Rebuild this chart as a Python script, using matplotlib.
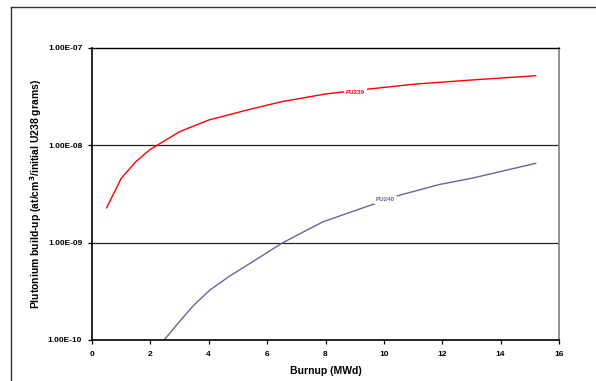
import numpy as np
import matplotlib
matplotlib.use("Agg")
import matplotlib.pyplot as plt
from matplotlib.lines import Line2D

plt.rcParams['font.family'] = ['Liberation Sans', 'DejaVu Sans']

# Pu-239 build-up
pu239_burnup = [0.5, 1.0, 1.5, 2.0, 3.0, 4.0, 5.4, 6.5, 8.0, 9.5, 11.0, 13.0, 15.2]
pu239_value = [2.28e-9, 4.58e-9, 6.78e-9, 9.1e-9, 1.38e-8, 1.82e-8, 2.34e-8,
               2.81e-8, 3.37e-8, 3.79e-8, 4.24e-8, 4.69e-8, 5.19e-8]

# Pu-240 build-up
pu240_burnup = [2.47, 3.0, 3.5, 4.04, 4.7, 5.41, 6.5, 7.2, 7.92, 9.55, 10.55, 11.92, 13.0, 15.2]
pu240_value = [1.0e-10, 1.55e-10, 2.3e-10, 3.26e-10, 4.5e-10, 6.12e-10, 9.84e-10,
               1.27e-9, 1.64e-9, 2.43e-9, 3.08e-9, 3.97e-9, 4.58e-9, 6.53e-9]

y_ticks = [1e-10, 1e-9, 1e-8, 1e-7]
y_tick_labels = ['1.00E-10', '1.00E-09', '1.00E-08', '1.00E-07']
x_ticks = [0, 2, 4, 6, 8, 10, 12, 14, 16]

fig = plt.figure(figsize=(5.96, 3.81), dpi=100)
ax = fig.add_axes([92 / 596, 1 - 340 / 381, (559 - 92) / 596, (340 - 48) / 381])

ax.plot(pu239_burnup, pu239_value, color='#FF0000', lw=1.0)
ax.plot(pu240_burnup, pu240_value, color='#666699', lw=1.0)

ax.set_yscale('log')
ax.set_ylim(1e-10, 1e-7)
ax.set_xlim(0, 16)

for y in [1e-9, 1e-8]:
    ax.axhline(y, color='#222222', lw=0.9, zorder=0)

# inline series labels
ax.text(9.03, 3.53e-8, 'PU239', color='#FF0000', fontsize=4.5, fontweight='bold',
        ha='center', va='center',
        bbox=dict(facecolor='white', edgecolor='none', pad=1.2))
ax.text(10.05, 2.75e-9, 'PU240', color='#666699', fontsize=4.5, fontweight='bold',
        ha='center', va='center',
        bbox=dict(facecolor='white', edgecolor='none', pad=1.2))

ax.set_yticks(y_ticks)
ax.set_yticklabels(y_tick_labels)
ax.yaxis.set_minor_locator(matplotlib.ticker.NullLocator())
ax.set_xticks(x_ticks)
ax.tick_params(direction='out', length=3, width=0.9, labelsize=6)
ax.tick_params(axis='x', pad=5)
ax.tick_params(axis='y', pad=4)
for lab in ax.get_xticklabels() + ax.get_yticklabels():
    lab.set_fontweight('bold')

ax.set_xlabel('Burnup (MWd)', fontsize=7.5, fontweight='bold', labelpad=6)
ax.set_ylabel('Plutonium build-up (at/cm$^{\\mathbf{3}}$/initial U238 grams)',
              fontsize=7.5, fontweight='bold', labelpad=3)

ax.spines['left'].set_linewidth(1.2)
ax.spines['bottom'].set_linewidth(1.2)
ax.spines['top'].set_linewidth(1.0)
ax.spines['right'].set_color('#808080')
ax.spines['right'].set_linewidth(1.2)

# outer chart frame, cut off on the right and bottom
fig.add_artist(Line2D([11 / 596, 1.0], [1 - 7 / 381, 1 - 7 / 381],
                      transform=fig.transFigure, color='#333333', lw=1.0))
fig.add_artist(Line2D([11 / 596, 11 / 596], [0.0, 1 - 7 / 381],
                      transform=fig.transFigure, color='#333333', lw=1.0))

fig.savefig('out.png', dpi=100)
